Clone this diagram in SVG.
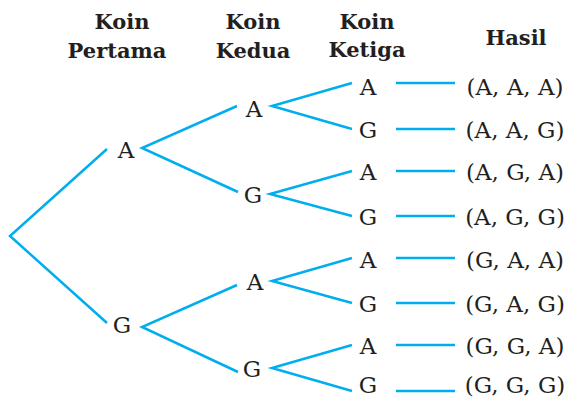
<svg xmlns="http://www.w3.org/2000/svg" width="566" height="399" viewBox="0 0 566 399">
<style>
.h{font-family:"DejaVu Serif","Liberation Serif",serif;font-weight:bold;font-size:21px;fill:#231f20;text-anchor:middle}
.t{font-family:"DejaVu Serif","Liberation Serif",serif;font-size:23px;fill:#231f20;text-anchor:middle}
.c line,.c polyline{stroke:#00aeef;stroke-width:2.5;fill:none}
</style>
<rect width="566" height="399" fill="#fff"/>
<g id="headers">
<text class="h" x="122" y="29">Koin</text>
<text class="h" x="117" y="58">Pertama</text>
<text class="h" x="253" y="29">Koin</text>
<text class="h" x="253" y="58">Kedua</text>
<text class="h" x="367" y="29">Koin</text>
<text class="h" x="367" y="57">Ketiga</text>
<text class="h" x="516" y="45">Hasil</text>
</g>
<g id="connectors" class="c">
<polyline points="107,149 10,236 107,323"/>
<polyline points="237,106 142,148 238,192"/>
<polyline points="237,285 142,327 238,372"/>
<polyline points="352,83 272,106 352,129"/>
<polyline points="352,171 270,194 352,216"/>
<polyline points="352,258 272,281 352,303"/>
<polyline points="352,345 272,368 352,391"/>
<line x1="396" y1="83" x2="455" y2="83"/>
<line x1="396" y1="129" x2="455" y2="129"/>
<line x1="396" y1="171" x2="455" y2="171"/>
<line x1="396" y1="216" x2="455" y2="216"/>
<line x1="396" y1="258" x2="455" y2="258"/>
<line x1="396" y1="303" x2="455" y2="303"/>
<line x1="396" y1="345" x2="455" y2="345"/>
<line x1="396" y1="391" x2="455" y2="391"/>
</g>
<g id="n1A"><text class="t" x="126" y="158">A</text></g>
<g id="n1G"><text class="t" x="122" y="333">G</text></g>
<g id="n2AA"><text class="t" x="254" y="117">A</text></g>
<g id="n2AG"><text class="t" x="253" y="203">G</text></g>
<g id="n2GA"><text class="t" x="255" y="290">A</text></g>
<g id="n2GG"><text class="t" x="252" y="377">G</text></g>
<g id="n3-1"><text class="t" x="368" y="95">A</text></g>
<g id="n3-2"><text class="t" x="368" y="138">G</text></g>
<g id="n3-3"><text class="t" x="368" y="180">A</text></g>
<g id="n3-4"><text class="t" x="368" y="225">G</text></g>
<g id="n3-5"><text class="t" x="368" y="268">A</text></g>
<g id="n3-6"><text class="t" x="368" y="312">G</text></g>
<g id="n3-7"><text class="t" x="368" y="354">A</text></g>
<g id="n3-8"><text class="t" x="368" y="393">G</text></g>
<g id="r1"><text class="t" x="515" y="95">(A, A, A)</text></g>
<g id="r2"><text class="t" x="515" y="138">(A, A, G)</text></g>
<g id="r3"><text class="t" x="515" y="180">(A, G, A)</text></g>
<g id="r4"><text class="t" x="515" y="225">(A, G, G)</text></g>
<g id="r5"><text class="t" x="515" y="268">(G, A, A)</text></g>
<g id="r6"><text class="t" x="515" y="312">(G, A, G)</text></g>
<g id="r7"><text class="t" x="515" y="354">(G, G, A)</text></g>
<g id="r8"><text class="t" x="515" y="393">(G, G, G)</text></g>
</svg>
